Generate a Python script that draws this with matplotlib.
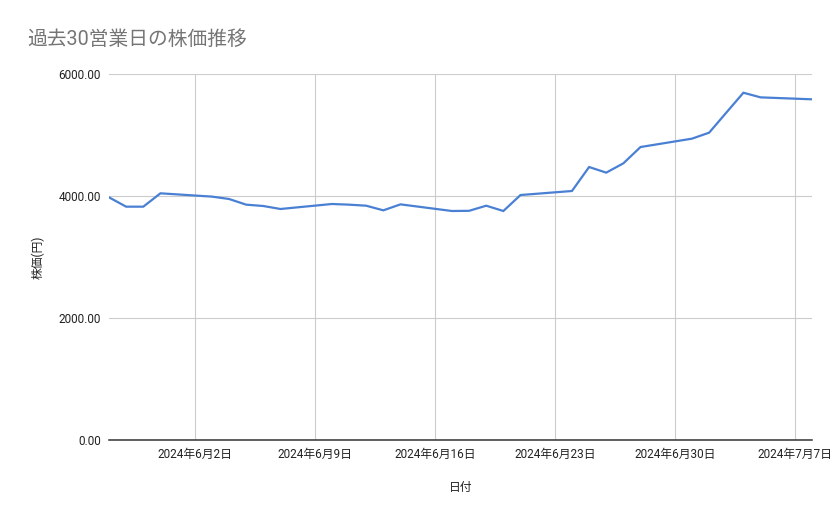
import matplotlib
matplotlib.use("Agg")
import matplotlib.pyplot as plt
import numpy as np
import pandas as pd

# 30 business days, May 28 - Jul 8 2024
dates = pd.bdate_range("2024-05-28", "2024-07-08")
prices = [3978, 3825, 3825, 4044,
          3990, 3951, 3858, 3836, 3787,
          3869, 3858, 3841, 3765, 3863,
          3754, 3757, 3841, 3754, 4016,
          4082, 4475, 4383, 4536, 4803,
          4940, 5038, 5366, 5693, 5617,
          5585]

tick_dates = pd.date_range("2024-06-02", "2024-07-07", freq="7D")
tick_labels = [f"{d.year}年{d.month}月{d.day}日" for d in tick_dates]
y_ticks = [0, 2000, 4000, 6000]

fonts = ["Roboto", "Noto Sans CJK JP", "DejaVu Sans"]
plt.rcParams["font.family"] = fonts

fig = plt.figure(figsize=(8.39, 5.19), dpi=100)
ax = fig.add_axes([109 / 839, 1 - 440 / 519, (812 - 109) / 839, (440 - 74) / 519])

ax.plot(dates, prices, color="#4a80d4", linewidth=1.6, solid_joinstyle="miter")

ax.set_xlim(dates[0], dates[-1])
ax.set_ylim(0, 6000)
ax.set_xticks(tick_dates)
ax.set_xticklabels(tick_labels, fontsize=8.5, color="#222222")
ax.set_yticks(y_ticks)
ax.set_yticklabels([f"{v:.2f}" for v in y_ticks], fontsize=8.5, color="#222222")
ax.tick_params(length=0, pad=6)

ax.grid(True, color="#cccccc", linewidth=0.8)
ax.set_axisbelow(True)
for s in ["top", "right", "left"]:
    ax.spines[s].set_visible(False)
ax.spines["bottom"].set_color("#333333")
ax.spines["bottom"].set_linewidth(1.1)

ax.set_xlabel("日付", fontsize=8.5, color="#222222", labelpad=14)
ax.set_ylabel("株価(円)", fontsize=8.5, color="#222222", labelpad=10)

fig.text(27 / 839, 1 - 39 / 519, "過去30営業日の株価推移", fontsize=14.2,
         color="#757575", va="center", ha="left")

fig.savefig("out.png", dpi=100)
